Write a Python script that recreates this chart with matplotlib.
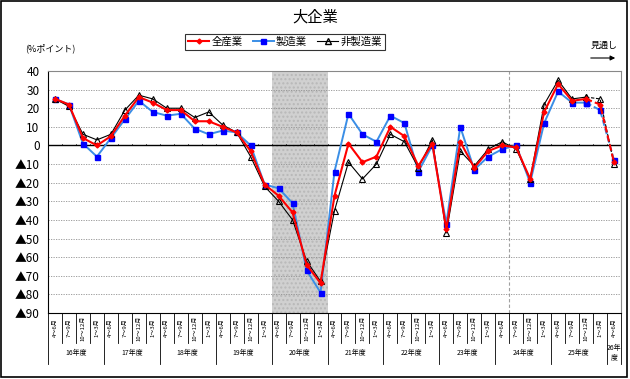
import matplotlib
matplotlib.use('Agg')
import matplotlib.pyplot as plt
from matplotlib.lines import Line2D
from matplotlib.patches import Rectangle
import numpy as np

plt.rcParams['font.family'] = ['Noto Sans CJK JP', 'DejaVu Sans']

# データ (16年度4～6月 ～ 26年度4～6月)
quarters = ['4～6月', '7～9月', '10～12月', '1～3月']
years = ['16年度', '17年度', '18年度', '19年度', '20年度',
         '21年度', '22年度', '23年度', '24年度', '25年度', '26年\n度']

zensangyo = [25, 22, 4, 0, 5, 16, 26, 23, 19, 19, 13, 13, 10, 7, -3, -21,
             -27, -36, -64, -74, -27, 1, -9, -6, 10, 5, -11, 1, -45, 2, -12,
             -3, 0, -1, -18, 18, 33, 24, 25, 22, -9]
seizo = [25, 22, 1, -6, 4, 14, 24, 18, 16, 17, 9, 6, 8, 7, 0, -21,
         -23, -31, -67, -79, -14, 17, 6, 2, 16, 12, -14, 0, -42, 10, -13,
         -6, -2, 0, -20, 12, 29, 23, 23, 19, -8]
hiseizo = [25, 21, 6, 3, 6, 19, 27, 25, 20, 20, 15, 18, 11, 7, -6, -22,
           -30, -40, -62, -73, -35, -9, -18, -10, 6, 2, -12, 3, -47, -3, -11,
           -2, 2, -2, -18, 22, 35, 25, 26, 25, -10]

yticks = [40, 30, 20, 10, 0, -10, -20, -30, -40, -50, -60, -70, -80, -90]


def ylabel_text(v):
    if v < 0:
        return '▲' + str(-v)
    return str(v)


n = len(zensangyo)
x = np.arange(n)
fc = n - 3  # 見通し部分は破線

fig = plt.figure(figsize=(6.3, 3.79), dpi=100)
ax = fig.add_axes([48 / 630, 1 - 313 / 379, 573 / 630, 242 / 379])

# 網掛け (20年度)
ax.axvspan(15.5, 19.5, facecolor='#d0d0d0', edgecolor='#b8b8b8',
           hatch='....', lw=0, zorder=0)
ax.axvline(32.5, color='#a0a0a0', ls=(0, (3, 2)), lw=0.8, zorder=1)

for v in yticks:
    if v != 0:
        ax.axhline(v, color='#909090', ls=(0, (1.5, 1.5)), lw=0.6, zorder=1)
ax.axhline(0, color='black', lw=1.0, zorder=2)
for b in np.arange(-0.5, n, 1):
    ax.plot([b, b], [0, 1.0], color='black', lw=0.5, zorder=2)

series = [
    (seizo, dict(color='#3a8ee6', lw=1.4, marker='s', ms=3.6, mfc='#0000ff',
                 mec='#0000ff'), 3),
    (hiseizo, dict(color='black', lw=0.8, marker='^', ms=5, mfc='none',
                   mec='black', mew=0.8), 4),
    (zensangyo, dict(color='#ff0000', lw=1.5, marker='D', ms=2.5,
                     mfc='#ff0000', mec='#ff0000'), 5),
]
for vals, style, z in series:
    ax.plot(x[:fc + 1], vals[:fc + 1], zorder=z, **style)
    ax.plot(x[fc:], vals[fc:], ls=(0, (3, 1.5)), zorder=z, **style)

ax.set_xlim(-0.5, n - 0.5)
ax.set_ylim(-90, 40)
ax.set_yticks(yticks)
ax.set_yticklabels([ylabel_text(v) for v in yticks], fontsize=8.5)
ax.tick_params(axis='y', length=0, pad=6)
ax.set_xticks([])
for s in ax.spines.values():
    s.set_color('#888888')
    s.set_linewidth(0.8)
ax.spines['left'].set_color('black')
ax.spines['bottom'].set_color('black')

# 横軸ラベル
tr = ax.get_xaxis_transform()
for i in range(n):
    ax.text(i, -0.062, quarters[i % 4], transform=tr, rotation=90,
            ha='center', va='center', fontsize=4.3)
for b in np.arange(-0.5, n, 1):
    yb = -0.211 if (b + 0.5) % 4 == 0 or b == n - 0.5 else -0.124
    ax.plot([b, b], [0, yb], transform=tr, color='black', lw=0.6,
            clip_on=False)
for k, name in enumerate(years):
    cx = k * 4 + 1.5 if k < len(years) - 1 else n - 1
    ax.text(cx, -0.165, name, transform=tr, ha='center', va='center',
            fontsize=5, linespacing=1.2)

# タイトル・凡例など
fig.text(0.5, 1 - 17 / 379, '大企業', ha='center', va='center', fontsize=11)
fig.text(25 / 630, 1 - 48 / 379, '(%ポイント)', ha='left', va='center',
         fontsize=6.5)
fig.text(604 / 630, 1 - 45 / 379, '見通し', ha='center', va='center',
         fontsize=6.5)
fig.add_artist(matplotlib.patches.FancyArrowPatch(
    (588 / 630, 1 - 58 / 379), (618 / 630, 1 - 58 / 379),
    transform=fig.transFigure, arrowstyle='-|>', mutation_scale=7,
    color='black', lw=0.8))

handles = [
    Line2D([], [], color='#ff0000', lw=1.5, marker='D', ms=2.5),
    Line2D([], [], color='#3a8ee6', lw=1.4, marker='s', ms=3.6,
           mfc='#0000ff', mec='#0000ff'),
    Line2D([], [], color='black', lw=0.8, marker='^', ms=5, mfc='none'),
]
leg = fig.legend(handles, ['全産業', '製造業', '非製造業'], ncol=3,
                 loc='center', bbox_to_anchor=(285 / 630, 1 - 42 / 379),
                 fontsize=7.5, frameon=True, fancybox=False, handlelength=2.0,
                 handletextpad=0.2, columnspacing=1.0, borderpad=0.3)
leg.get_frame().set_edgecolor('black')
leg.get_frame().set_linewidth(0.8)

fig.add_artist(Rectangle((0.002, 0.004), 0.994, 0.993,
                         transform=fig.transFigure, fill=False,
                         edgecolor='black', lw=1.2))

fig.savefig('out.png', dpi=100)
